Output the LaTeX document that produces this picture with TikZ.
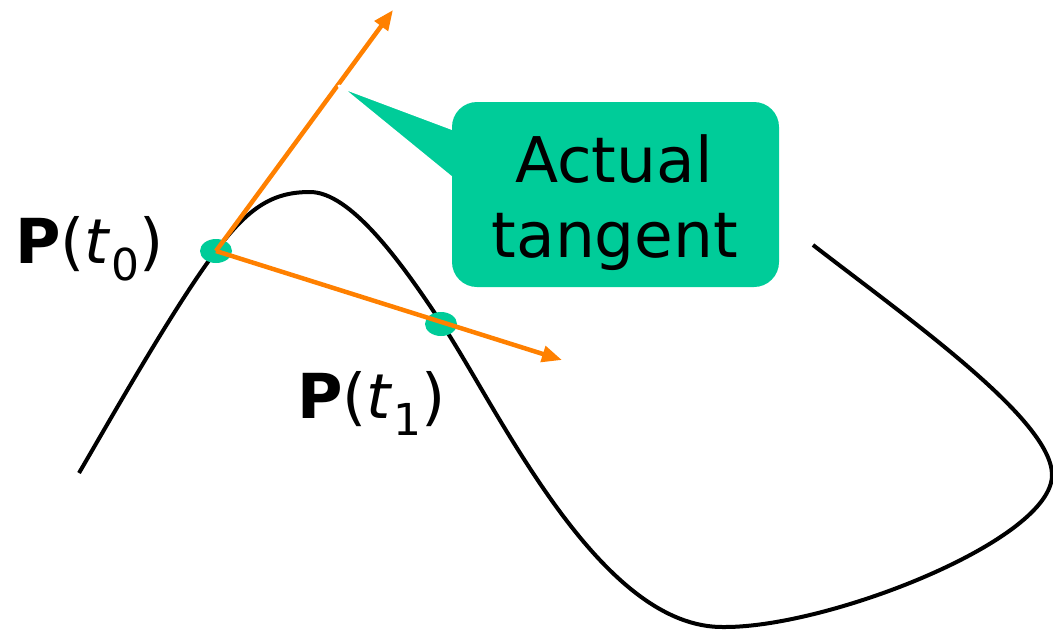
\documentclass[tikz,border=0pt]{standalone}
\usepackage{fontspec}
\setmainfont{DejaVu Sans}
\usetikzlibrary{arrows.meta,shapes.geometric}
\definecolor{callgreen}{RGB}{0,204,153}
\definecolor{tanorange}{RGB}{255,128,0}
\begin{document}
\begin{tikzpicture}[x=1pt,y=-1pt,
  curveline/.style={draw=black,line width=4pt},
  ptdot/.style={ellipse,fill=callgreen,minimum width=32pt,minimum height=24pt,inner sep=0pt},
  vec/.style={draw=tanorange,line width=4.5pt,-{Triangle[length=20pt,width=16pt]}},
  lbl/.style={inner sep=0pt,font=\fontsize{62}{74}\selectfont},
  calltext/.style={inner sep=0pt,anchor=base,font=\fontsize{63}{75}\selectfont},
  callbox/.style={fill=callgreen,rounded corners=25pt,minimum width=327pt,minimum height=185pt,inner sep=0pt}]
\useasboundingbox (0,0) rectangle (1053,630);
% curve
\draw[curveline] (79,473) .. controls (110,420) and (175,305) .. (216,251)
  .. controls (250,205) and (275,192) .. (310,192)
  .. controls (350,192) and (400,260) .. (442,324)
  .. controls (500,412) and (600,630) .. (725,627)
  .. controls (830,627) and (1052,540) .. (1052,475)
  .. controls (1052,420) and (910,320) .. (813,245);
% points
\node[ptdot] (p0) at (216,251) {};
\node[ptdot] (p1) at (441,324) {};
\coordinate (tipA) at (393,10);
\coordinate (tipB) at (562,360);
\draw[vec] (p0.center) -- (tipA);
\draw[vec] (p0.center) -- (tipB);
% callout
\coordinate (ptip) at (339,86);
\fill[callgreen,draw=white,line width=3pt,line join=round] (ptip) -- (475,137) -- (475,197) -- cycle;
\node[callbox] (box) at (615.5,194.5) {};
\node[calltext] (ta) at (614,182) {Actual};
\node[calltext] (tb) at (615,257) {tangent};
% labels
\node[lbl,anchor=base west] (l0) at (15,263) {\textbf{P}(\textit{t}\lower17pt\hbox{\fontsize{44}{44}\selectfont 0})};
\node[lbl,anchor=base west] (l1) at (297,418) {\textbf{P}(\textit{t}\lower17pt\hbox{\fontsize{44}{44}\selectfont 1})};
\end{tikzpicture}
\end{document}
